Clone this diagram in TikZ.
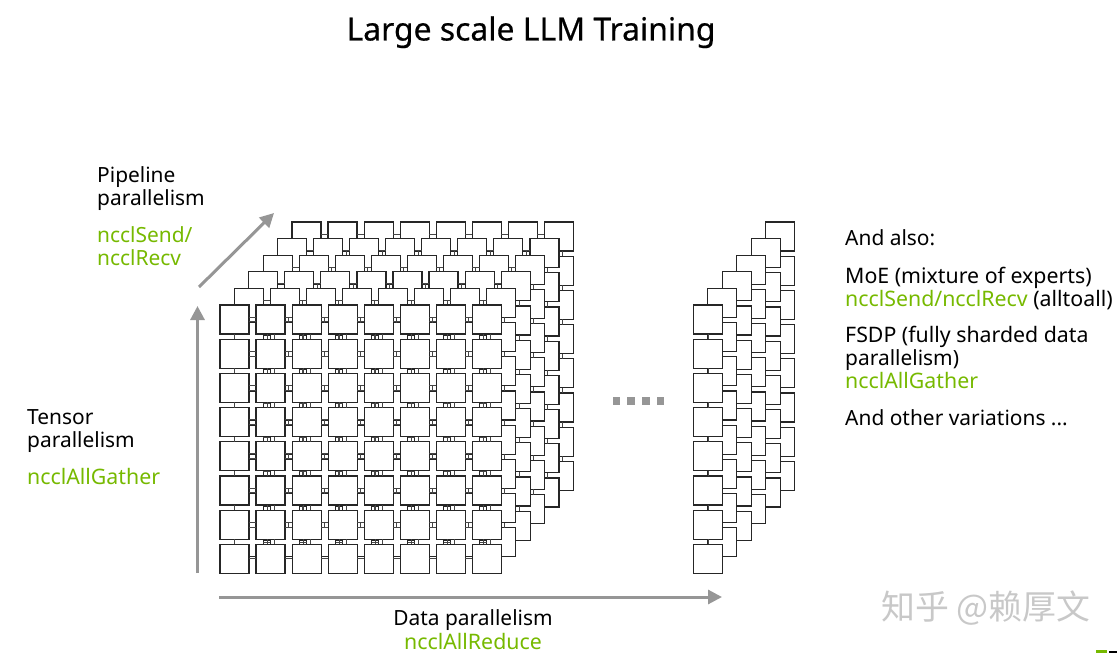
\documentclass[tikz,border=0pt]{standalone}
\usepackage{fontspec}
\setmainfont{Noto Sans}
\newfontfamily\cjkfont{Noto Sans CJK SC}
\newfontfamily\titlefont[BoldFont={Noto Sans},BoldFeatures={FakeBold=0.5}]{Noto Sans}
\usetikzlibrary{arrows.meta}
\definecolor{nvgreen}{RGB}{118,185,0}
\definecolor{axisgray}{RGB}{150,150,150}
\definecolor{linkgray}{RGB}{70,70,70}
\definecolor{wmgray}{RGB}{200,200,200}
\tikzset{
  cell/.style={draw=black!85,line width=1.15bp,fill=white,minimum width=29bp,minimum height=29bp,inner sep=0pt,outer sep=0pt},
  link/.style={draw=linkgray,line width=1bp},
  axis/.style={draw=axisgray,line width=3bp,-{Triangle[length=14bp,width=14bp]}},
  label/.style={anchor=base west,inner sep=0pt,font=\fontsize{21}{25}\selectfont},
  wide/.style={font=\fontsize{21.4}{25}\selectfont},
  glabel/.style={label,text=nvgreen},
  dotmark/.style={fill=axisgray,minimum size=7.5bp,inner sep=0pt,outer sep=0pt}
}
\begin{document}
\begin{tikzpicture}[x=1bp,y=-1bp]
\useasboundingbox (0,0) rectangle (1119,653);
% main grid, back layer first
\foreach \l in {5,4,3,2,1,0}{
  \foreach \r in {0,...,7}{
    \foreach \c in {0,...,7}{
      \node[cell] (m\l-\r-\c) at ({234.5+36.05*\c+14.4*\l},{319.5+34.2*\r-16.6*\l}) {};
    }
  }
  \foreach \r in {0,...,7}{
    \foreach \c [evaluate=\c as \n using int(\c+1)] in {0,...,6}{
      \ifnum\r=7
        \draw[link] (m\l-\r-\c.east) -- (m\l-\r-\n.west);
      \else
        \draw[link] ([yshift=2.4bp]m\l-\r-\c.east) -- ([yshift=2.4bp]m\l-\r-\n.west);
        \draw[link] ([yshift=-2.4bp]m\l-\r-\c.east) -- ([yshift=-2.4bp]m\l-\r-\n.west);
      \fi
    }
  }
  \foreach \c in {0,...,7}{
    \foreach \r [evaluate=\r as \n using int(\r+1)] in {0,...,6}{
      \ifnum\c=0
        \draw[link] (m\l-\r-\c.south) -- (m\l-\n-\c.north);
      \else
        \draw[link] ([xshift=3.5bp]m\l-\r-\c.south) -- ([xshift=3.5bp]m\l-\n-\c.north);
        \draw[link] ([xshift=-3.5bp]m\l-\r-\c.south) -- ([xshift=-3.5bp]m\l-\n-\c.north);
      \fi
    }
  }
}
% last column
\foreach \l in {5,4,3,2,1,0}{
  \foreach \r in {0,...,7}{
    \node[cell] (s\l-\r) at ({708+14.4*\l},{319.5+34.2*\r-16.6*\l}) {};
  }
  \foreach \r [evaluate=\r as \n using int(\r+1)] in {0,...,6}{
    \draw[link] (s\l-\r.south) -- (s\l-\n.north);
  }
}
% ellipsis squares
\foreach \i in {0,...,3}{
  \node[dotmark] (d\i) at ({616.5+14.7*\i},401) {};
}
% axes
\coordinate (tb) at (197.5,573);
\coordinate (tt) at (197.5,306);
\coordinate (pb) at (199,287);
\coordinate (pt) at (274,213);
\coordinate (db) at (219,597);
\coordinate (dt) at (722,597);
\draw[axis] (tb) -- (tt);
\draw[axis] (pb) -- (pt);
\draw[axis] (db) -- (dt);
% title
\node[anchor=base,inner sep=0pt,font=\fontsize{32}{38}\titlefont\bfseries] (title) at (531,40.5) {Large scale LLM Training};
% left labels
\node[label] (p1) at (97,182.5) {Pipeline};
\node[label] (p2) at (97,205.5) {parallelism};
\node[glabel] (p3) at (97,242.5) {ncclSend/};
\node[glabel] (p4) at (97,265.5) {ncclRecv};
\node[label] (t1) at (27,424) {Tensor};
\node[label] (t2) at (27,447) {parallelism};
\node[glabel,wide] (t3) at (27,484) {ncclAllGather};
% bottom labels
\node[label,anchor=base] (d1) at (473,625) {Data parallelism};
\node[glabel,wide,anchor=base] (d2) at (473,649) {ncclAllReduce};
% right labels
\node[label] (r1) at (845,245.5) {And also:};
\node[label,wide] (r2) at (845,283) {MoE (mixture of experts)};
\node[label,wide] (r3) at (845,306) {\textcolor{nvgreen}{ncclSend/ncclRecv} (alltoall)};
\node[label,wide] (r4) at (845,342) {FSDP (fully sharded data};
\node[label] (r5) at (845,365) {parallelism)};
\node[glabel,wide] (r6) at (845,388) {ncclAllGather};
\node[label] (r7) at (845,425) {And other variations ...};
% watermark
\node[anchor=base west,inner sep=0pt,text=wmgray,font=\fontsize{34}{38}\cjkfont] (wm) at (881,619) {知乎 @赖厚文};
% cropped logo
\fill[nvgreen] (1096,650) rectangle (1107,653);
\fill[black] (1109,651) rectangle (1117,653);
\end{tikzpicture}
\end{document}
